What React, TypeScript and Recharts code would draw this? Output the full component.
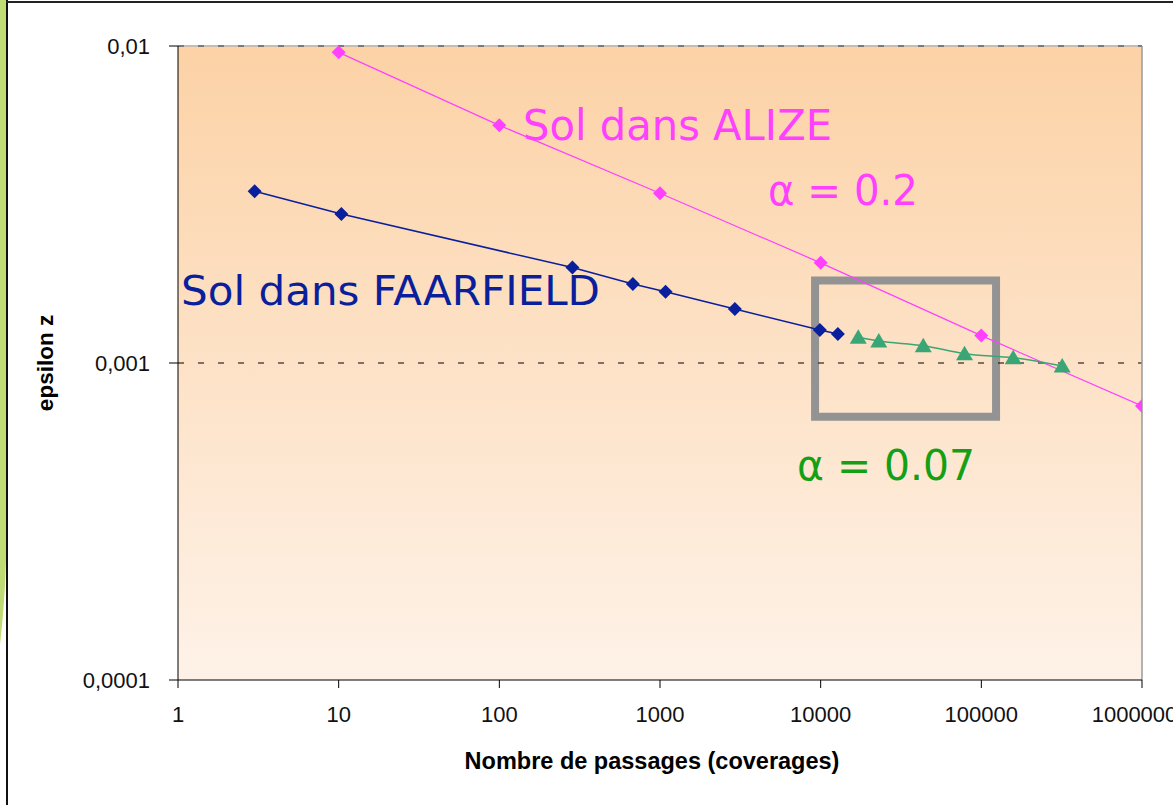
import React from 'react';
import {
  LineChart,
  Line,
  XAxis,
  YAxis,
  ReferenceLine,
  ReferenceArea,
  CartesianGrid,
} from 'recharts';

// ALIZE soil, eps_z vs number of coverages
const alizeN = [10, 100, 1000, 10000, 100000, 1000000];
const alizeEps = [0.00955, 0.00562, 0.00343, 0.00207, 0.00122, 0.000732];

// FAARFIELD soil
const faarN = [3, 10.4, 285, 678, 1083, 2924, 9890, 12800];
const faarEps = [0.00348, 0.00295, 0.002, 0.001774, 0.001678, 0.00148, 0.00127, 0.001234];

// continuation of the FAARFIELD curve (alpha = 0.07)
const extN = [17140, 23000, 43500, 78600, 157900, 318700];
const extEps = [0.001205, 0.001173, 0.001134, 0.00107, 0.001039, 0.000978];

const xTicks = [1, 10, 100, 1000, 10000, 100000, 1000000];
const yTicks = [0.0001, 0.001, 0.01];

// zoom box around the FAARFIELD / extension junction
const boxN = [9230, 123500];
const boxEps = [0.000677, 0.00182];

const toRows = (xs: number[], ys: number[]) => xs.map((n, i) => ({ n, eps: ys[i] }));

const alizeData = toRows(alizeN, alizeEps);
const faarData = toRows(faarN, faarEps);
const extData = toRows(extN, extEps);

const PINK = '#FF40FF';
const NAVY = '#0A1F9C';
const TEAL = '#3AA676';
const GREEN = '#14A014';

const axisFont = "'Liberation Sans', Arial, sans-serif";
const handFont = "'Comic Sans MS', 'DejaVu Sans', sans-serif";

const diamond = (color: string, r: number) => (props: any) => {
  const { cx, cy, index } = props;
  if (cx == null || cy == null) return <g key={`d-${index}`} />;
  return (
    <polygon
      key={`d-${index}`}
      points={`${cx},${cy - r} ${cx + r},${cy} ${cx},${cy + r} ${cx - r},${cy}`}
      fill={color}
    />
  );
};

const triangle = (color: string) => (props: any) => {
  const { cx, cy, index } = props;
  if (cx == null || cy == null) return <g key={`t-${index}`} />;
  return (
    <polygon
      key={`t-${index}`}
      points={`${cx},${cy - 8} ${cx + 8.5},${cy + 6.5} ${cx - 8.5},${cy + 6.5}`}
      fill={color}
    />
  );
};

const fmtY = (v: number) => String(v).replace('.', ',');

export default function App() {
  return (
    <div style={{ position: 'absolute', left: 0, top: 0, width: 1173, height: 805, background: '#fff' }}>
      <LineChart
        width={1173}
        height={805}
        margin={{ top: 46, right: 31, bottom: 0, left: 0 }}
      >
        <defs>
          <linearGradient id="plotBg" x1="0" y1="0" x2="0" y2="1">
            <stop offset="0%" stopColor="#FCD2A6" />
            <stop offset="100%" stopColor="#FEF2E8" />
          </linearGradient>
        </defs>
        <CartesianGrid horizontal={false} vertical={false} fill="url(#plotBg)" stroke="none" />
        <XAxis
          dataKey="n"
          type="number"
          scale="log"
          domain={[1, 1000000]}
          ticks={xTicks}
          allowDataOverflow
          height={125}
          stroke="#000"
          tickSize={8}
          tickMargin={18}
          tick={{ fill: '#111', fontSize: 22, fontFamily: axisFont }}
          label={{
            value: 'Nombre de passages (coverages)',
            position: 'insideBottom',
            offset: 36,
            style: {
              fill: '#000',
              fontSize: 23.5,
              fontWeight: 'bold',
              fontFamily: axisFont,
              transform: 'translateX(-8px)',
            },
          }}
        />
        <YAxis
          dataKey="eps"
          type="number"
          scale="log"
          domain={[0.0001, 0.01]}
          ticks={yTicks}
          allowDataOverflow
          width={178}
          stroke="#000"
          tickSize={9}
          tickMargin={19}
          tickFormatter={fmtY}
          tick={{ fill: '#111', fontSize: 22, fontFamily: axisFont }}
          label={{
            value: 'epsilon z',
            angle: -90,
            position: 'insideLeft',
            offset: 45,
            style: { textAnchor: 'middle', fill: '#000', fontSize: 22.5, fontWeight: 'bold', fontFamily: axisFont },
          }}
        />
        <ReferenceLine y={0.01} stroke="#C9BBAE" strokeWidth={2} />
        <ReferenceLine y={0.01} stroke="#7A7A7A" strokeWidth={2} strokeDasharray="6 14" />
        <ReferenceLine y={0.001} stroke="#000" strokeWidth={1.2} strokeDasharray="6 14" />
        <ReferenceLine x={1000000} stroke="#9A9A9A" strokeWidth={1.5} />

        <Line
          data={alizeData}
          dataKey="eps"
          type="linear"
          stroke={PINK}
          strokeWidth={1.2}
          dot={diamond(PINK, 7)}
          activeDot={false}
          isAnimationActive={false}
        />
        <Line
          data={faarData}
          dataKey="eps"
          type="linear"
          stroke={NAVY}
          strokeWidth={1.5}
          dot={diamond(NAVY, 7)}
          activeDot={false}
          isAnimationActive={false}
        />
        <Line
          data={extData}
          dataKey="eps"
          type="monotone"
          stroke={TEAL}
          strokeWidth={1.5}
          dot={triangle(TEAL)}
          activeDot={false}
          isAnimationActive={false}
        />
        <ReferenceArea
          x1={boxN[0]}
          x2={boxN[1]}
          y1={boxEps[0]}
          y2={boxEps[1]}
          fill="none"
          fillOpacity={0}
          stroke="#939393"
          strokeWidth={8}
        />
      </LineChart>

      {/* frame and hand-written annotations */}
      <svg
        width={1173}
        height={805}
        style={{ position: 'absolute', left: 0, top: 0, pointerEvents: 'none' }}
      >
        <path d="M0 0 H6 V560 Q5 600 0 645 Z" fill="#BFDB76" />
        <line x1={7} y1={0} x2={7} y2={805} stroke="#111" strokeWidth={2} />
        <line x1={6} y1={2} x2={1173} y2={2} stroke="#222" strokeWidth={2} />

        <text x={523} y={140} fill={PINK} fontSize={42} fontFamily={handFont} textLength={309} lengthAdjust="spacingAndGlyphs">
          Sol dans ALIZE
        </text>
        <text x={768} y={205} fill={PINK} fontSize={42} fontFamily={handFont} textLength={150} lengthAdjust="spacingAndGlyphs">
          α = 0.2
        </text>
        <text x={181} y={305} fill={NAVY} fontSize={41} fontFamily={handFont} textLength={419} lengthAdjust="spacingAndGlyphs">
          Sol dans FAARFIELD
        </text>
        <text x={797} y={480} fill={GREEN} fontSize={42} fontFamily={handFont} textLength={178} lengthAdjust="spacingAndGlyphs">
          α = 0.07
        </text>
      </svg>
    </div>
  );
}
